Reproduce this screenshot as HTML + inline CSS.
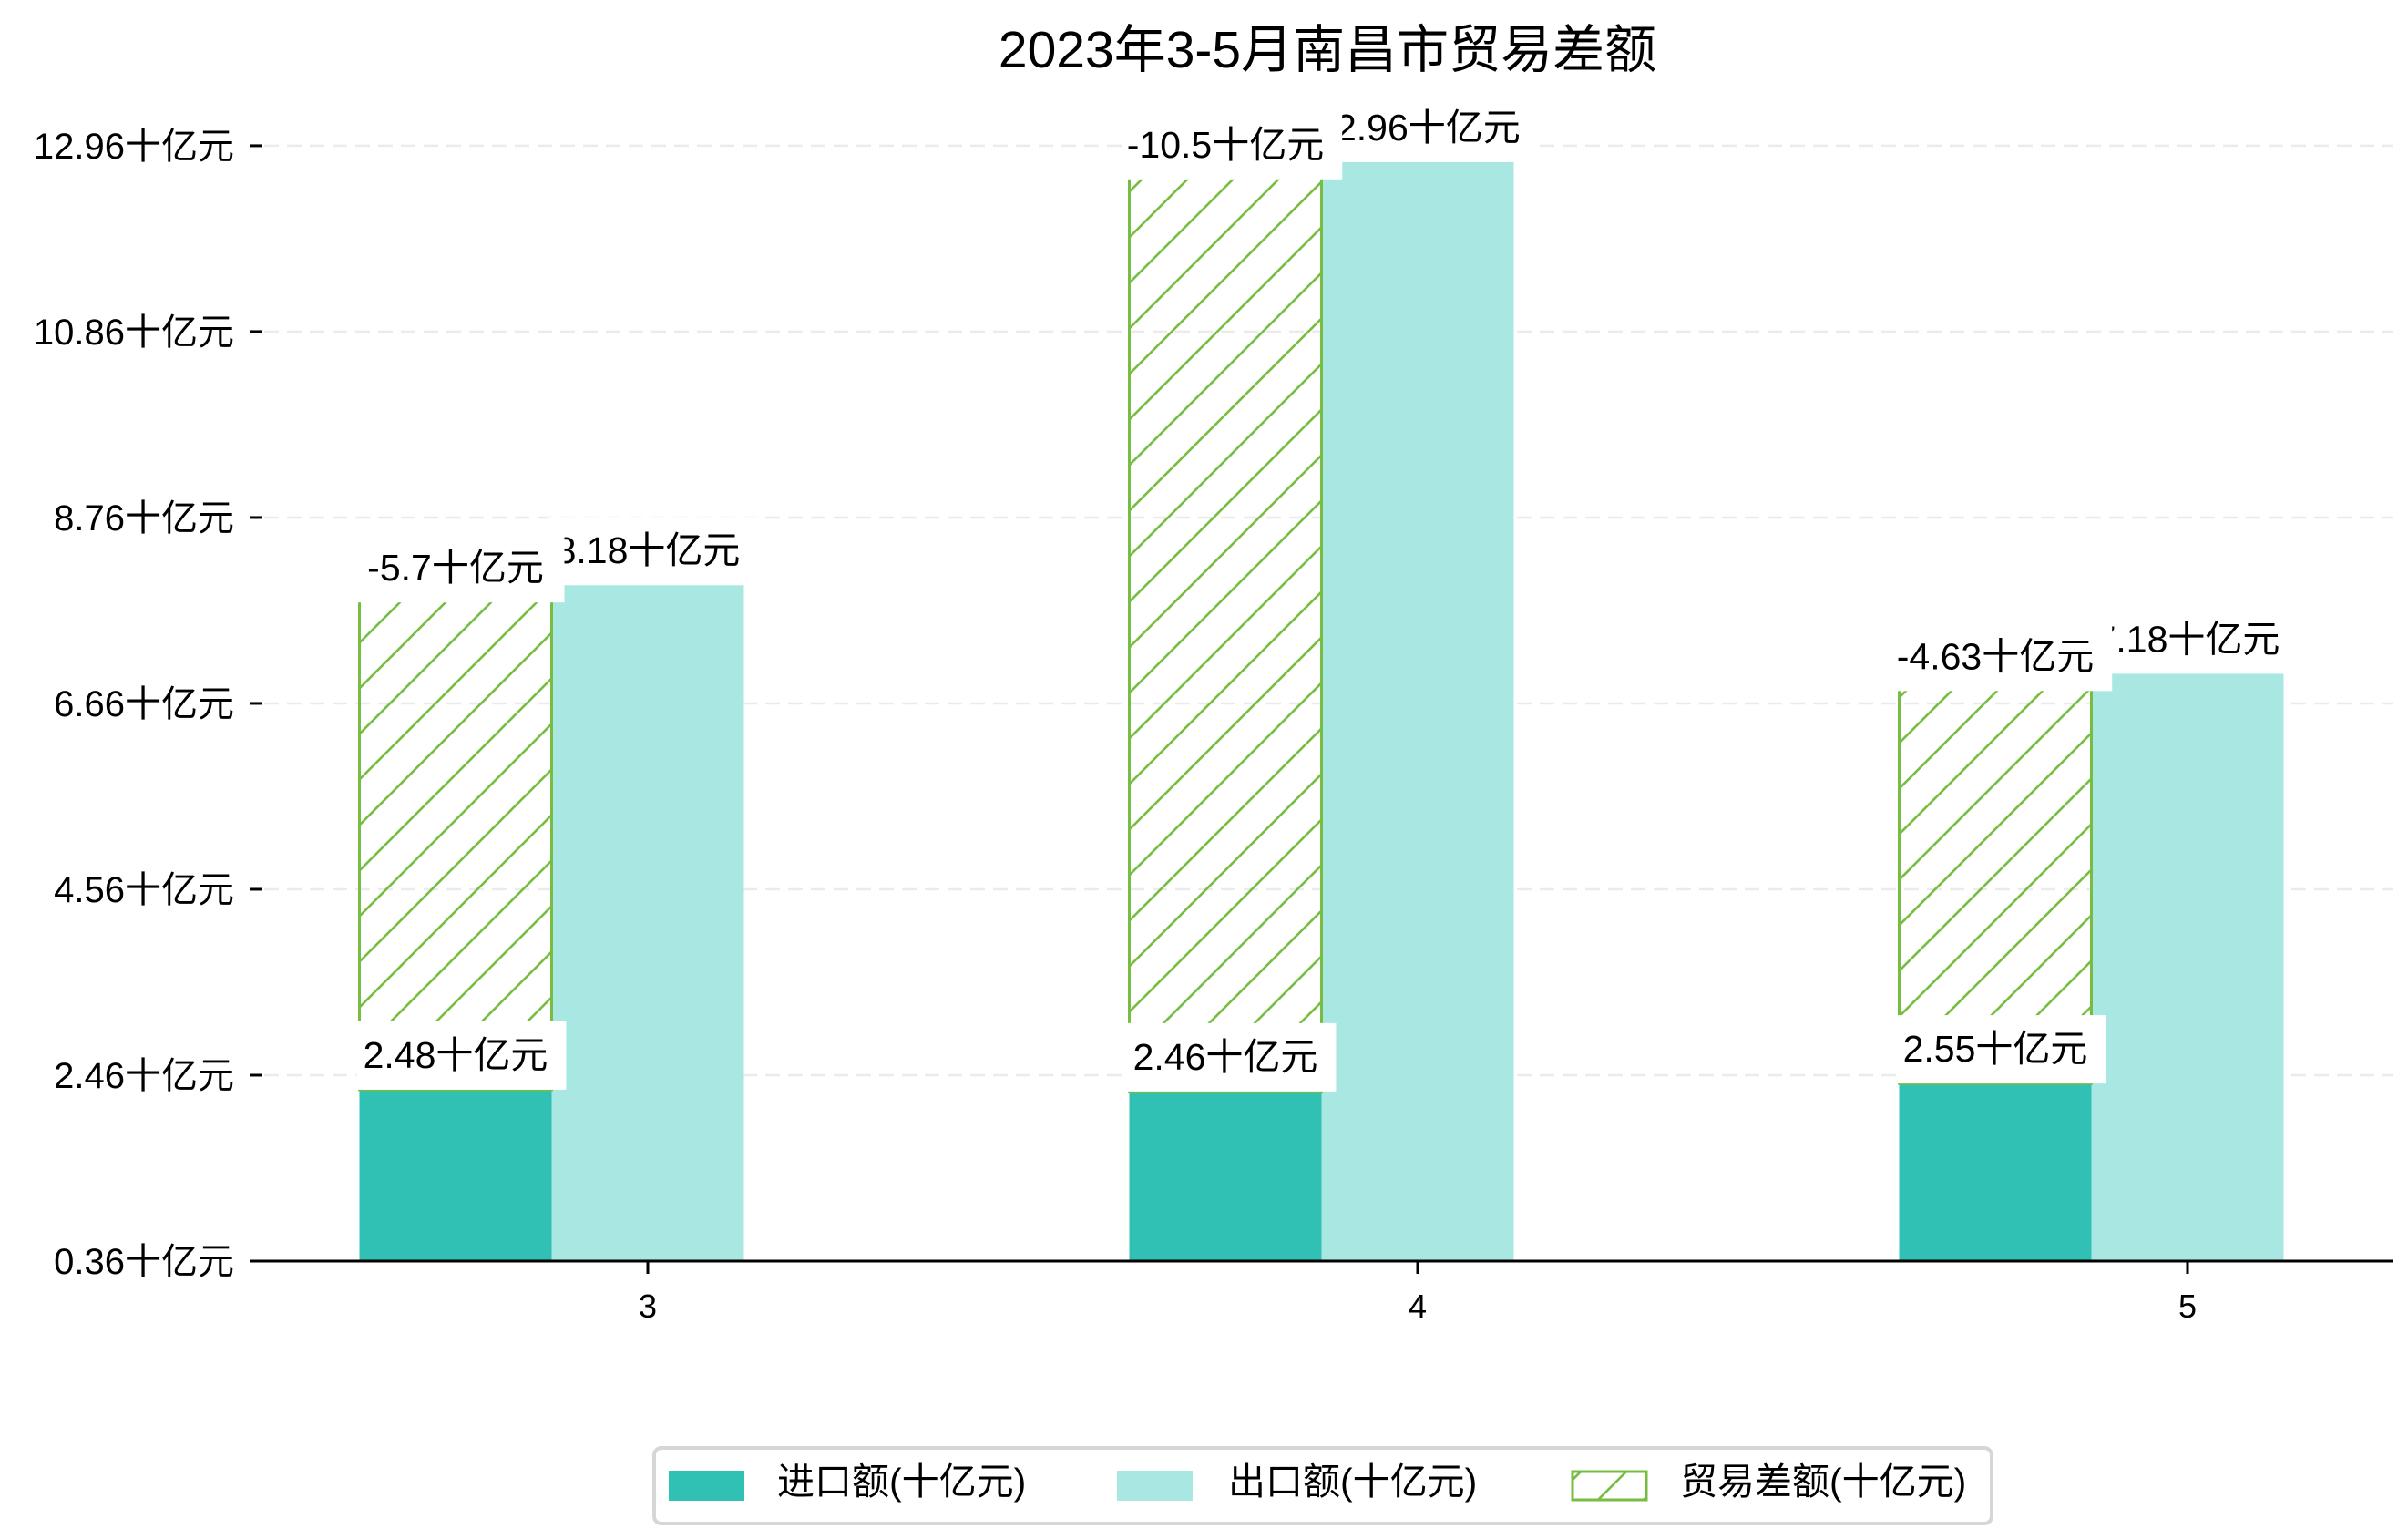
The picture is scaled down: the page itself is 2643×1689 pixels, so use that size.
<!DOCTYPE html>
<html><head><meta charset="utf-8">
<style>
html,body{margin:0;padding:0;background:#fff;}
svg{display:block;}
text{font-family:"Liberation Sans","Noto Sans CJK SC",sans-serif;fill:#000;}
</style></head>
<body>
<svg id="chart" width="2643" height="1689" viewBox="0 0 2643 1689" xmlns="http://www.w3.org/2000/svg">
<defs>
<pattern id="hatch" patternUnits="userSpaceOnUse" width="50" height="50">
<line x1="-5" y1="55" x2="55" y2="-5" stroke="#76bd42" stroke-width="2.6"/>
<line x1="-5" y1="5" x2="5" y2="-5" stroke="#76bd42" stroke-width="2.6"/>
<line x1="45" y1="55" x2="55" y2="45" stroke="#76bd42" stroke-width="2.6"/>
</pattern>
</defs>
<text x="1457" y="74" font-size="57" text-anchor="middle">2023年3-5月南昌市贸易差额</text>
<g id="grid"></g>
<g id="yaxis"></g>
<g id="bars"></g>
<g id="labels"></g>
<line x1="274" y1="1384" x2="2626" y2="1384" stroke="#000" stroke-width="3"/>
<g id="xaxis"></g>
<g>
<rect x="718" y="1589" width="1468" height="83" rx="8" fill="#fff" stroke="#d6d6d6" stroke-width="4"/>
<g>
<rect x="734" y="1614" width="83" height="33" fill="#31c1b4"/>
<text x="853" y="1640" font-size="41">进口额(十亿元)</text>
</g>
<g>
<rect x="1226" y="1614" width="83" height="33" fill="#a9e8e2"/>
<text x="1348" y="1640" font-size="41">出口额(十亿元)</text>
</g>
<g>
<rect x="1726" y="1615" width="81" height="31" fill="url(#hatch)" stroke="#76bd42" stroke-width="3"/>
<text x="1844" y="1640" font-size="41">贸易差额(十亿元)</text>
</g>
</g>
</svg>
<script>
const categories = ["3","4","5"];
const importVals = [2.48, 2.46, 2.55];
const exportVals = [8.18, 12.96, 7.18];
const balanceVals = [-5.7, -10.5, -4.63];
const yTickValues = [0.544, 2.644, 4.744, 6.844, 8.944, 11.044, 13.144];
const yTickLabels = ["0.36十亿元","2.46十亿元","4.56十亿元","6.66十亿元","8.76十亿元","10.86十亿元","12.96十亿元"];

const NS = "http://www.w3.org/2000/svg";
const Y0 = 1384, YMIN = 0.544, PXU = 97.15;
function y(v){ return Y0 - (v - YMIN) * PXU; }
const X0 = 711, XSTEP = 845, BW = 211;
function x(i){ return X0 + i * XSTEP; }
function mk(tag, attrs, parent){
  const e = document.createElementNS(NS, tag);
  for (const k in attrs) e.setAttribute(k, attrs[k]);
  parent.appendChild(e); return e;
}
const grid = document.getElementById('grid');
const yaxis = document.getElementById('yaxis');
const bars = document.getElementById('bars');
const labels = document.getElementById('labels');
const xaxis = document.getElementById('xaxis');

yTickValues.forEach((v, k) => {
  const yy = y(v);
  if (k > 0) {
    const g = mk('line', {x1: 290, x2: 2626, y1: yy, y2: yy, stroke: '#ebebeb', 'stroke-width': 2.5, 'stroke-dasharray': '16 9'}, grid);
    
    
  }
  const t = mk('line', {x1: 274, x2: 288, y1: yy, y2: yy, stroke: '#000', 'stroke-width': 3}, yaxis);
  
  
  const l = mk('text', {x: 257, y: yy + 14, 'font-size': 40, 'text-anchor': 'end'}, yaxis);
  l.textContent = yTickLabels[k];
  
  
});

categories.forEach((c, i) => {
  const t = mk('line', {x1: x(i), x2: x(i), y1: 1384, y2: 1398, stroke: '#000', 'stroke-width': 3}, xaxis);
  
  
  const l = mk('text', {x: x(i), y: 1446, 'font-size': 36, 'text-anchor': 'middle'}, xaxis);
  l.textContent = c;
  
  
});

function label(cx, barLeft, bottom, str, name){
  const g = mk('g', {}, labels);
  
  
  const r = mk('rect', {fill: '#fff'}, g);
  const t = mk('text', {x: cx, y: bottom - 24, 'font-size': 41, 'text-anchor': 'middle'}, g);
  t.textContent = str;
  const w = t.getComputedTextLength();
  const left = Math.min(cx - w / 2 - 5, barLeft - 3);
  const right = Math.max(cx + w / 2 + 20, barLeft + BW + 14);
  r.setAttribute('x', left);
  r.setAttribute('y', bottom - 75);
  r.setAttribute('width', right - left);
  r.setAttribute('height', 75);
}

categories.forEach((c, i) => {
  const impX = x(i) - 1.5 * BW, expX = x(i) - 0.5 * BW;
  const b1 = mk('rect', {x: impX, y: y(importVals[i]), width: BW, height: Y0 - y(importVals[i]), fill: '#31c1b4'}, bars);
  
  
  const b2 = mk('rect', {x: expX, y: y(exportVals[i]), width: BW, height: Y0 - y(exportVals[i]), fill: '#a9e8e2'}, bars);
  
  
  const top = importVals[i] + Math.abs(balanceVals[i]);
  const b3 = mk('rect', {x: impX, y: y(top), width: BW, height: y(importVals[i]) - y(top), fill: 'url(#hatch)', stroke: '#76bd42', 'stroke-width': 3}, bars);
  
  
});
categories.forEach((c, i) => {
  label(x(i) - BW, x(i) - 1.5 * BW, y(importVals[i]), importVals[i] + '十亿元', 'import-value-label');
});
categories.forEach((c, i) => {
  label(x(i), x(i) - 0.5 * BW, y(exportVals[i]), exportVals[i] + '十亿元', 'export-value-label');
});
categories.forEach((c, i) => {
  const top = importVals[i] + Math.abs(balanceVals[i]);
  label(x(i) - BW, x(i) - 1.5 * BW, y(top) + 19, balanceVals[i] + '十亿元', 'balance-value-label');
});
</script>
</body></html>
